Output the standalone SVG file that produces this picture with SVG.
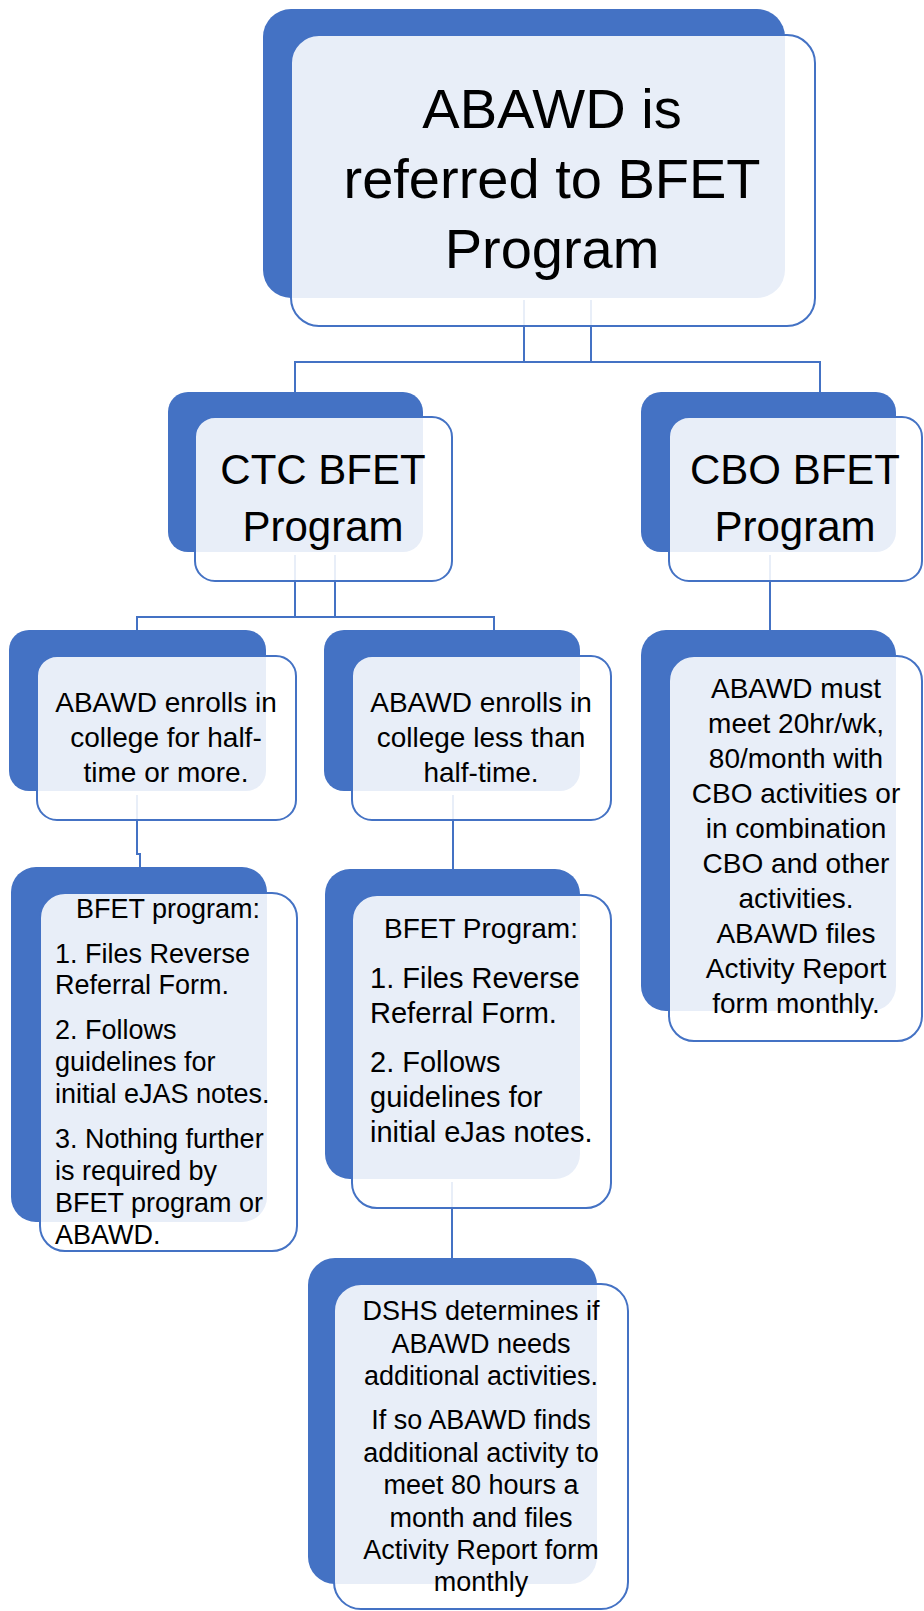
<svg xmlns="http://www.w3.org/2000/svg" width="924" height="1611" viewBox="0 0 924 1611">
<style>
.back{fill:#4472C4}
.front{fill:#ffffff;fill-opacity:0.88;stroke:#4472C4;stroke-width:2}
.conn{fill:none;stroke:#4472C4;stroke-width:2}
text{font-family:"Liberation Sans",Arial,sans-serif;fill:#000}
.c{text-anchor:middle}
</style>
<rect width="924" height="1611" fill="#ffffff"/>
<g id="connectors">
<path class="conn" d="M524 300 V362 M591 300 V362 M295 392 V362 H820 V392"/>
<path class="conn" d="M295 555 V617 M335 555 V617 M137 630 V617 H494 V630"/>
<path class="conn" d="M770 555 V631"/>
<path class="conn" d="M137 795 V854 H140 V868"/>
<path class="conn" d="M453 795 V869"/>
<path class="conn" d="M452 1182 V1258"/>
</g>
<g id="node-top">
<rect class="back" x="263" y="9" width="522" height="289" rx="28"/>
<rect class="front" x="291" y="35" width="524" height="291" rx="28"/>
<text class="c" font-size="56"><tspan x="552" y="128">ABAWD is</tspan><tspan x="552" y="198">referred to BFET</tspan><tspan x="552" y="268">Program</tspan></text>
</g>
<g id="node-ctc">
<rect class="back" x="168" y="392" width="255" height="160" rx="20"/>
<rect class="front" x="195" y="417" width="257" height="164" rx="20"/>
<text class="c" font-size="42"><tspan x="323" y="484">CTC BFET</tspan><tspan x="323" y="541">Program</tspan></text>
</g>
<g id="node-cbo">
<rect class="back" x="641" y="392" width="255" height="160" rx="20"/>
<rect class="front" x="669" y="417" width="253" height="164" rx="20"/>
<text class="c" font-size="42"><tspan x="795" y="484">CBO BFET</tspan><tspan x="795" y="541">Program</tspan></text>
</g>
<g id="node-halfmore">
<rect class="back" x="9" y="630" width="257" height="161" rx="20"/>
<rect class="front" x="37" y="656" width="259" height="164" rx="20"/>
<text class="c" font-size="28"><tspan x="166" y="712">ABAWD enrolls in</tspan><tspan x="166" y="747">college for half-</tspan><tspan x="166" y="782">time or more.</tspan></text>
</g>
<g id="node-halfless">
<rect class="back" x="324" y="630" width="256" height="161" rx="20"/>
<rect class="front" x="352" y="656" width="259" height="164" rx="20"/>
<text class="c" font-size="28"><tspan x="481" y="712">ABAWD enrolls in</tspan><tspan x="481" y="747">college less than</tspan><tspan x="481" y="782">half-time.</tspan></text>
</g>
<g id="node-cbo-detail">
<rect class="back" x="641" y="630" width="255" height="381" rx="25"/>
<rect class="front" x="669" y="656" width="253" height="385" rx="25"/>
<text class="c" font-size="28"><tspan x="796" y="698">ABAWD must</tspan><tspan x="796" y="733">meet 20hr/wk,</tspan><tspan x="796" y="768">80/month with</tspan><tspan x="796" y="803">CBO activities or</tspan><tspan x="796" y="838">in combination</tspan><tspan x="796" y="873">CBO and other</tspan><tspan x="796" y="908">activities.</tspan><tspan x="796" y="943">ABAWD files</tspan><tspan x="796" y="978">Activity Report</tspan><tspan x="796" y="1013">form monthly.</tspan></text>
</g>
<g id="node-bfet-left">
<rect class="back" x="11" y="867" width="256" height="355" rx="25"/>
<rect class="front" x="40" y="893" width="257" height="358" rx="25"/>
<text font-size="27"><tspan class="c" x="168" y="918">BFET program:</tspan><tspan x="55" y="963">1. Files Reverse</tspan><tspan x="55" y="994">Referral Form.</tspan><tspan x="55" y="1039">2. Follows</tspan><tspan x="55" y="1071">guidelines for</tspan><tspan x="55" y="1103">initial eJAS notes.</tspan><tspan x="55" y="1148">3. Nothing further</tspan><tspan x="55" y="1180">is required by</tspan><tspan x="55" y="1212">BFET program or</tspan><tspan x="55" y="1244">ABAWD.</tspan></text>
</g>
<g id="node-bfet-right">
<rect class="back" x="325" y="869" width="255" height="310" rx="25"/>
<rect class="front" x="352" y="895" width="259" height="313" rx="25"/>
<text font-size="29"><tspan class="c" x="481" y="938" font-size="28">BFET Program:</tspan><tspan x="370" y="988">1. Files Reverse</tspan><tspan x="370" y="1023">Referral Form.</tspan><tspan x="370" y="1072">2. Follows</tspan><tspan x="370" y="1107">guidelines for</tspan><tspan x="370" y="1142">initial eJas notes.</tspan></text>
</g>
<g id="node-dshs">
<rect class="back" x="308" y="1258" width="289" height="326" rx="27"/>
<rect class="front" x="334" y="1284" width="294" height="325" rx="27"/>
<text class="c" font-size="27"><tspan x="481" y="1320">DSHS determines if</tspan><tspan x="481" y="1353">ABAWD needs</tspan><tspan x="481" y="1385">additional activities.</tspan><tspan x="481" y="1429">If so ABAWD finds</tspan><tspan x="481" y="1462">additional activity to</tspan><tspan x="481" y="1494">meet 80 hours a</tspan><tspan x="481" y="1527">month and files</tspan><tspan x="481" y="1559">Activity Report form</tspan><tspan x="481" y="1591">monthly</tspan></text>
</g>
</svg>
